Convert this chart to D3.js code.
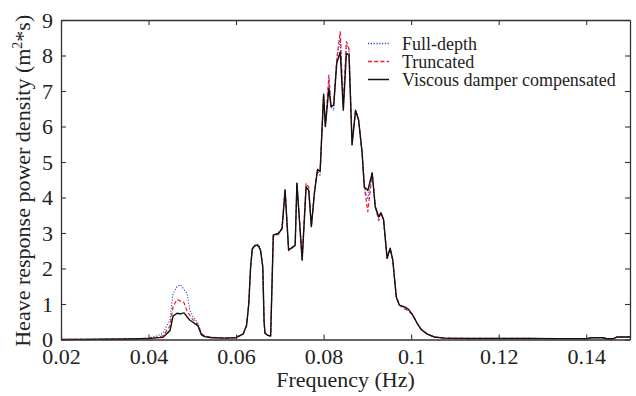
<!DOCTYPE html>
<html>
<head>
<meta charset="utf-8">
<script src="https://cdn.jsdelivr.net/npm/d3@7"></script>
<style>
  html, body { margin: 0; padding: 0; background: #fff; }
  svg { display: block; }
  svg text { font-family: "Liberation Serif", Tinos, "Times New Roman", Times, "DejaVu Serif", serif; fill: #222; }
</style>
</head>
<body>
<svg id="chart" width="636" height="396"></svg>
<script>
// Frequency grid (Hz)
const frequency = [
  0.0200, 0.0250, 0.0300, 0.0350, 0.0380, 0.0401, 0.0417, 0.0433, 0.0449, 0.0456,
  0.0465, 0.0473, 0.0481, 0.0488, 0.0494, 0.0502, 0.0510, 0.0513, 0.0521, 0.0528,
  0.0544, 0.0574, 0.0599, 0.0616, 0.0624, 0.0629, 0.0633, 0.0637, 0.0642, 0.0647,
  0.0652, 0.0656, 0.0661, 0.0664, 0.0666, 0.0672, 0.0679, 0.0682, 0.0685, 0.0695,
  0.0699, 0.0705, 0.0712, 0.0720, 0.0730, 0.0735, 0.0739, 0.0751, 0.0760, 0.0766,
  0.0772, 0.0779, 0.0786, 0.0792, 0.0800, 0.0804, 0.0812, 0.0817, 0.0823, 0.0830,
  0.0838, 0.0845, 0.0852, 0.0858, 0.0865, 0.0873, 0.0880, 0.0888, 0.0893, 0.0901,
  0.0911, 0.0918, 0.0926, 0.0931, 0.0937, 0.0945, 0.0952, 0.0958, 0.0966, 0.0973,
  0.0985, 0.0994, 0.1003, 0.1014, 0.1023, 0.1037, 0.1053, 0.1076, 0.1133, 0.1201,
  0.1270, 0.1338, 0.1402, 0.1411, 0.1425, 0.1438, 0.1447, 0.1461, 0.1470, 0.1493,
  0.1500
];

// Heave response power density (m^2*s), full-depth mooring model
const fullDepth = [
  0.000, 0.005, 0.010, 0.018, 0.030, 0.045, 0.09, 0.18, 0.55, 1.30,
  1.49, 1.54, 1.41, 1.30, 0.83, 0.64, 0.50, 0.46, 0.17, 0.10,
  0.06, 0.05, 0.05, 0.16, 0.41, 1.00, 2.00, 2.57, 2.66, 2.68,
  2.68, 2.52, 2.06, 0.50, 0.18, 0.12, 0.10, 1.50, 2.96, 3.00,
  3.04, 3.15, 4.23, 2.52, 2.61, 2.66, 4.42, 2.26, 4.30, 4.22,
  3.18, 4.13, 4.78, 4.60, 6.92, 6.00, 7.30, 6.56, 6.45, 7.85,
  8.50, 6.55, 8.30, 8.15, 5.50, 6.46, 6.18, 5.25, 4.30, 3.95,
  4.69, 3.74, 3.42, 3.57, 3.37, 2.29, 2.57, 2.24, 1.20, 0.97,
  0.90, 0.83, 0.70, 0.45, 0.28, 0.15, 0.07, 0.04, 0.03, 0.03,
  0.03, 0.025, 0.025, 0.05, 0.05, 0.05, 0.02, 0.02, 0.07, 0.07,
  0.07
];

// Truncated mooring model
const truncated = [
  0.000, 0.004, 0.009, 0.016, 0.025, 0.035, 0.06, 0.10, 0.38, 0.92,
  1.13, 1.08, 1.04, 0.80, 0.69, 0.55, 0.45, 0.41, 0.17, 0.09,
  0.06, 0.04, 0.05, 0.15, 0.40, 1.00, 2.00, 2.55, 2.63, 2.66,
  2.62, 2.50, 2.05, 0.50, 0.18, 0.12, 0.10, 1.50, 2.90, 2.95,
  3.00, 3.12, 4.21, 2.50, 2.60, 2.65, 4.40, 2.24, 4.40, 4.30,
  3.18, 4.13, 4.80, 4.74, 6.90, 6.00, 7.45, 6.56, 6.60, 7.90,
  8.67, 6.60, 8.39, 8.20, 5.55, 6.46, 6.18, 5.25, 4.30, 3.60,
  4.69, 3.74, 3.35, 3.57, 3.37, 2.29, 2.57, 2.24, 1.20, 0.97,
  0.86, 0.80, 0.70, 0.45, 0.28, 0.15, 0.07, 0.04, 0.03, 0.03,
  0.03, 0.025, 0.025, 0.05, 0.05, 0.05, 0.02, 0.02, 0.07, 0.07,
  0.07
];

// Truncated mooring with viscous damper compensation
const viscousDamper = [
  0.000, 0.004, 0.008, 0.015, 0.022, 0.030, 0.045, 0.06, 0.25, 0.66,
  0.74, 0.72, 0.75, 0.64, 0.55, 0.48, 0.41, 0.38, 0.13, 0.08,
  0.05, 0.04, 0.05, 0.15, 0.40, 1.00, 2.00, 2.55, 2.63, 2.66,
  2.62, 2.50, 2.05, 0.50, 0.18, 0.12, 0.10, 1.50, 2.94, 2.98,
  3.02, 3.13, 4.21, 2.52, 2.61, 2.65, 4.40, 2.24, 4.30, 4.20,
  3.18, 4.13, 4.78, 4.74, 6.90, 6.00, 7.07, 6.56, 6.60, 7.78,
  8.10, 6.46, 8.06, 8.01, 5.48, 6.46, 6.18, 5.25, 4.30, 4.20,
  4.69, 3.74, 3.46, 3.57, 3.37, 2.29, 2.57, 2.24, 1.20, 0.97,
  0.92, 0.85, 0.70, 0.45, 0.28, 0.15, 0.07, 0.04, 0.03, 0.03,
  0.03, 0.025, 0.025, 0.05, 0.05, 0.05, 0.02, 0.02, 0.07, 0.07,
  0.07
];

const xTicks = [0.02, 0.04, 0.06, 0.08, 0.10, 0.12, 0.14];
const xTickLabels = ["0.02", "0.04", "0.06", "0.08", "0.1", "0.12", "0.14"];
const yTicks = [0, 1, 2, 3, 4, 5, 6, 7, 8, 9];

const seriesNames = ["Full-depth", "Truncated", "Viscous damper compensated"];
const seriesValues = [fullDepth, truncated, viscousDamper];

// Plot frame
const plot = { left: 61, right: 630, top: 20, bottom: 339.5 };
const serifFont = '"Liberation Serif", Tinos, "Times New Roman", Times, "DejaVu Serif", serif';

const svg = d3.select("#chart");

const x = d3.scaleLinear().domain([0.02, 0.15]).range([plot.left, plot.right]);
const y = d3.scaleLinear().domain([0, 9]).range([plot.bottom, plot.top]);

const styles = [
  { color: "#2f45d0", dash: "1.2,1.6", width: 1.1 },
  { color: "#ee1c25", dash: "4,2.2", width: 1.2 },
  { color: "#111111", dash: null, width: 1.4 }
];

// Clip lines to the plot box
svg.append("defs").append("clipPath").attr("id", "plotClip")
  .append("rect")
  .attr("x", plot.left).attr("y", plot.top - 2)
  .attr("width", plot.right - plot.left).attr("height", plot.bottom - plot.top + 4);

const line = d3.line()
  .x((d, i) => x(frequency[i]))
  .y(d => y(d));

const lines = svg.append("g").attr("clip-path", "url(#plotClip)");
seriesValues.forEach((vals, k) => {
  lines.append("path")
    .datum(vals)
    .attr("d", line)
    .attr("fill", "none")
    .attr("stroke", styles[k].color)
    .attr("stroke-width", styles[k].width)
    .attr("stroke-dasharray", styles[k].dash)
    .attr("stroke-linejoin", "round");
});

// Axes: inward ticks on all four sides
const axisColor = "#333";
function styleAxis(g, hideText) {
  g.attr("font-family", null).attr("font-size", null);
  g.select(".domain").attr("stroke", axisColor).attr("stroke-width", 1.3);
  g.selectAll(".tick line").attr("stroke", axisColor).attr("stroke-width", 1.1);
  g.selectAll(".tick text")
    .attr("fill", "#222")
    .attr("font-family", serifFont)
    .attr("font-size", 22);
  if (hideText) g.selectAll(".tick text").remove();
}

svg.append("g")
  .attr("transform", `translate(0,${plot.bottom})`)
  .call(d3.axisBottom(x).tickValues(xTicks).tickFormat((d, i) => xTickLabels[i])
        .tickSizeInner(-5).tickSizeOuter(0).tickPadding(9))
  .call(g => styleAxis(g, false));

svg.append("g")
  .attr("transform", `translate(0,${plot.top})`)
  .call(d3.axisTop(x).tickValues(xTicks).tickSizeInner(-5).tickSizeOuter(0))
  .call(g => styleAxis(g, true));

svg.append("g")
  .attr("transform", `translate(${plot.left},0)`)
  .call(d3.axisLeft(y).tickValues(yTicks).tickFormat(d3.format("d"))
        .tickSizeInner(-5).tickSizeOuter(0).tickPadding(8))
  .call(g => styleAxis(g, false));

svg.append("g")
  .attr("transform", `translate(${plot.right},0)`)
  .call(d3.axisRight(y).tickValues(yTicks).tickSizeInner(-5).tickSizeOuter(0))
  .call(g => styleAxis(g, true));

// Axis titles
svg.append("text")
  .attr("x", (plot.left + plot.right) / 2)
  .attr("y", 387)
  .attr("text-anchor", "middle")
  .attr("font-family", serifFont)
  .attr("font-size", 22)
  .text("Frequency (Hz)");

const yTitle = svg.append("text")
  .attr("transform", `translate(30,${(plot.top + plot.bottom) / 2 + 1}) rotate(-90)`)
  .attr("text-anchor", "middle")
  .attr("font-family", serifFont)
  .attr("font-size", 22);
yTitle.append("tspan").text("Heave response power density (m");
yTitle.append("tspan").attr("dy", -8).attr("font-size", 14).text("2");
yTitle.append("tspan").attr("dy", 8).text("*s)");

// Legend
const legend = svg.append("g");
const legendRows = [43.5, 61.5, 79.5];
const legendWidths = [1.6, 1.6, 1.5];
seriesNames.forEach((name, k) => {
  legend.append("line")
    .attr("x1", 368).attr("x2", 389)
    .attr("y1", legendRows[k]).attr("y2", legendRows[k])
    .attr("stroke", styles[k].color)
    .attr("stroke-width", legendWidths[k])
    .attr("stroke-dasharray", styles[k].dash);
  legend.append("text")
    .attr("x", 402)
    .attr("y", legendRows[k] + 6)
    .attr("font-family", serifFont)
    .attr("font-size", 18)
    .text(name);
});
</script>
</body>
</html>
